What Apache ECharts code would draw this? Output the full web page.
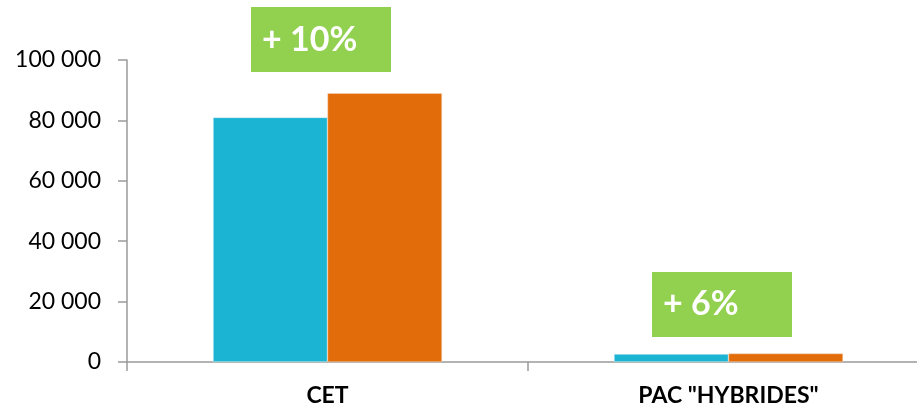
<!DOCTYPE html>
<html>
<head>
<meta charset="utf-8">
<script src="https://cdn.jsdelivr.net/npm/echarts@6/dist/echarts.min.js"></script>
<style>
  html, body { margin: 0; padding: 0; background: #fff; }
  #chart { width: 917px; height: 412px; }
</style>
</head>
<body>
<div id="chart"></div>
<script>
// Categories and the two compared series
const categories = ['CET', 'PAC "HYBRIDES"'];
const seriesBefore = [81000, 2650];
const seriesAfter = [89000, 2810];

// Growth call-outs: category index, value at the bottom edge of the box, text
const growthCategory = [0, 1];
const growthAnchor = [96000, 8300];
const growthText = ['+ 10%', '+ 6%'];

// Y axis ticks
const yMin = 0, yMax = 100000, yStep = 20000;

const axisGray = '#9a9a9a';
const fmt = v => String(v).replace(/\B(?=(\d{3})+(?!\d))/g, ' ');

const chart = echarts.init(document.getElementById('chart'), null, { renderer: 'canvas' });

chart.setOption({
  animation: false,
  backgroundColor: '#ffffff',
  grid: {
    left: 127, top: 60, width: 802, height: 302,
    containLabel: false,
    outerBoundsMode: 'none'
  },
  xAxis: {
    type: 'category',
    data: categories,
    axisLine: { lineStyle: { color: axisGray, width: 1.5 } },
    axisTick: { show: true, length: 9, lineStyle: { color: axisGray, width: 1.5 } },
    axisLabel: {
      margin: 22,
      color: '#000',
      fontFamily: 'Lato',
      fontWeight: 'bold',
      fontSize: 23
    }
  },
  yAxis: {
    type: 'value',
    min: yMin,
    max: yMax,
    interval: yStep,
    axisLine: { show: true, lineStyle: { color: axisGray, width: 1.5 } },
    axisTick: { show: true, length: 9, lineStyle: { color: axisGray, width: 1.5 } },
    splitLine: { show: false },
    axisLabel: {
      margin: 26,
      color: '#000',
      fontFamily: 'Lato',
      fontSize: 23,
      formatter: fmt
    }
  },
  series: [
    {
      type: 'bar',
      data: seriesBefore,
      barWidth: 114.5,
      barGap: '0%',
      itemStyle: { color: '#1CB4D3', borderColor: '#e8f6fa', borderWidth: 0.5 }
    },
    {
      type: 'bar',
      data: seriesAfter,
      barWidth: 114.5,
      itemStyle: { color: '#E36C0A', borderColor: '#f7d9c4', borderWidth: 0.5 }
    },
    {
      type: 'custom',
      coordinateSystem: 'cartesian2d',
      clip: false,
      z: 5,
      data: growthCategory.map((c, i) => [c, growthAnchor[i], growthText[i]]),
      renderItem: function (params, api) {
        const pt = api.coord([api.value(0), api.value(1)]);
        const w = 140, h = 65;
        const x0 = pt[0] - 76.5, y0 = pt[1] - h;
        return {
          type: 'group',
          children: [
            { type: 'rect', shape: { x: x0, y: y0, width: w, height: h }, style: { fill: '#92D050' } },
            {
              type: 'text',
              style: {
                x: x0 + 11,
                y: y0 + h / 2,
                text: growthText[params.dataIndex],
                fill: '#ffffff',
                font: 'bold 34px Lato',
                textAlign: 'left',
                textVerticalAlign: 'middle'
              }
            }
          ]
        };
      }
    }
  ]
});
</script>
</body>
</html>
